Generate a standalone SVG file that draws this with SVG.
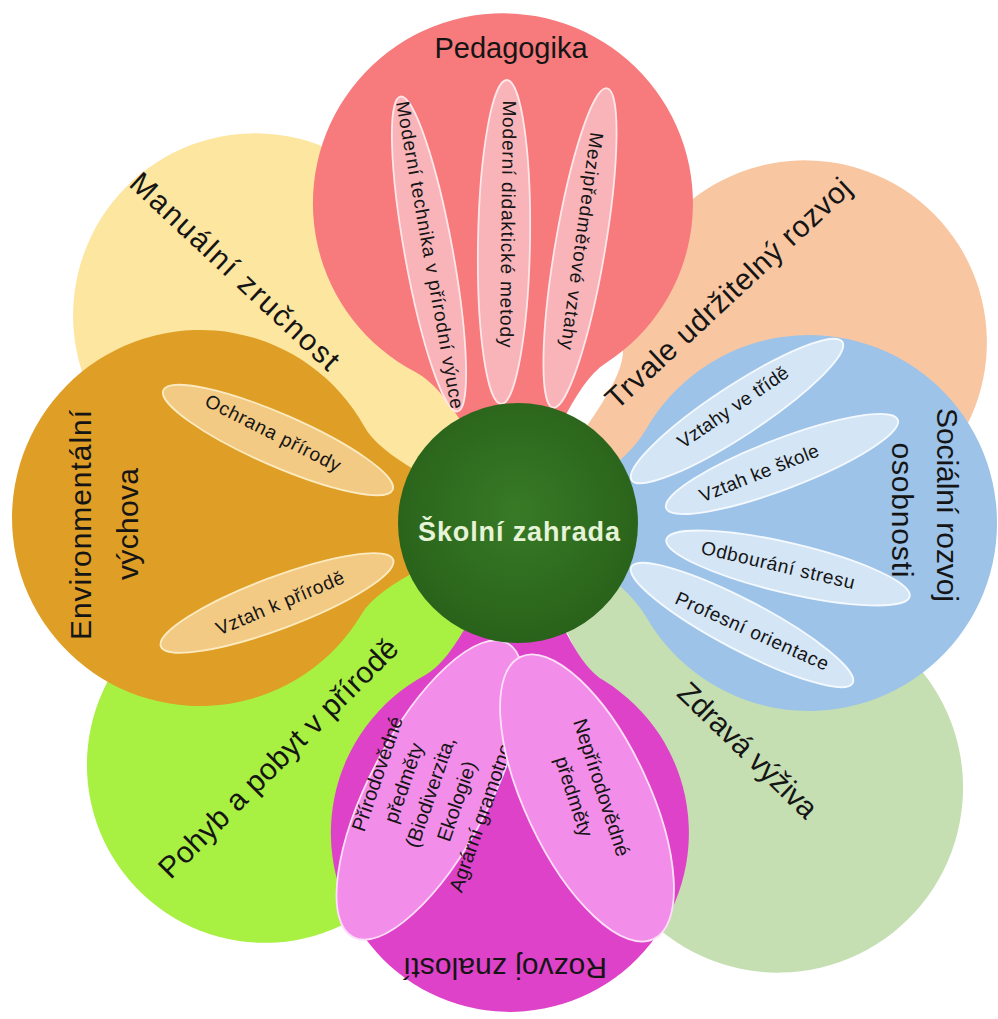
<svg xmlns="http://www.w3.org/2000/svg" width="998" height="1019" viewBox="0 0 998 1019">
<style>
text{font-family:"Liberation Sans",Arial,sans-serif;fill:#151515;dominant-baseline:central;text-anchor:middle}
.big{font-size:30px}
.sm{font-size:19px}
.mg{font-size:20px}
.center{font-size:27px;font-weight:bold;fill:#E6F3D6}
.subR{fill:#F8B4B9;stroke:#FFE6E8;stroke-width:1.8}
.subO{fill:#F3CA84;stroke:#FCEBC0;stroke-width:1.8}
.subB{fill:#D4E5F6;stroke:#F4F9FF;stroke-width:1.8}
.subM{fill:#F38DEA;stroke:#FDE0F8;stroke-width:1.8}
</style>
<defs>
<radialGradient id="gc" cx="50%" cy="45%" r="55%">
<stop offset="0" stop-color="#377A26"/>
<stop offset="1" stop-color="#29621A"/>
</radialGradient>
</defs>
<rect width="998" height="1019" fill="#FFFFFF"/>

<g id="petal-manualni">
<path fill="#FDE6A0" transform="translate(518,523) rotate(-51.7)" d="M-91,-177.4 A182,182 0 1 1 91,-177.4 C56,-157.4 30,-60 0,0 C-30,-60 -56,-157.4 -91,-177.4Z"/>
<text class="big" transform="translate(235,271) rotate(43)" textLength="274" lengthAdjust="spacing">Manuální zručnost</text>
</g>

<g id="petal-trvale">
<path fill="#F8C7A2" transform="translate(518,523) rotate(57.8)" d="M-91,-181.4 A182,182 0 1 1 91,-181.4 C56,-161.4 30,-60 0,0 C-30,-60 -56,-161.4 -91,-181.4Z"/>
<text class="big" transform="translate(728,293) rotate(-42.9)" textLength="323" lengthAdjust="spacing">Trvale udržitelný rozvoj</text>
</g>

<g id="petal-zdrava">
<path fill="#C5DFB2" transform="translate(518,523) rotate(135.5)" d="M-92.5,-210.8 A185,185 0 1 1 92.5,-210.8 C57.5,-190.8 30,-60 0,0 C-30,-60 -57.5,-190.8 -92.5,-210.8Z"/>
<text class="big" transform="translate(748,750) rotate(44)" textLength="181" lengthAdjust="spacing">Zdravá výživa</text>
</g>

<g id="petal-pohyb">
<path fill="#A8F042" transform="translate(518,523) rotate(-133.7)" d="M-89,-195.9 A178,178 0 1 1 89,-195.9 C54,-175.9 30,-60 0,0 C-30,-60 -54,-175.9 -89,-195.9Z"/>
<text class="big" transform="translate(278,758) rotate(-45)" textLength="325" lengthAdjust="spacing">Pohyb a pobyt v přírodě</text>
</g>

<g id="petal-pedagogika">
<path fill="#F77A7C" transform="translate(518,523) rotate(-2.7)" d="M-95,-155.5 A190,190 0 1 1 95,-155.5 C60,-135.5 30,-60 0,0 C-30,-60 -60,-135.5 -95,-155.5Z"/>
<text class="big" x="511" y="47" textLength="153" lengthAdjust="spacingAndGlyphs">Pedagogika</text>
<ellipse class="subR" cx="429" cy="254" rx="24" ry="160" transform="rotate(-10.3 429 254)"/>
<text class="sm" transform="translate(430,255) rotate(79.8)" textLength="312" lengthAdjust="spacing">Moderní technika v přírodní výuce</text>
<ellipse class="subR" cx="504" cy="242" rx="26" ry="162" transform="rotate(1 504 242)"/>
<text class="sm" transform="translate(508,224) rotate(90.7)" textLength="247" lengthAdjust="spacing">Moderní didaktické metody</text>
<ellipse class="subR" cx="580" cy="248" rx="25" ry="162" transform="rotate(9.6 580 248)"/>
<text class="sm" transform="translate(582,241) rotate(97.9)" textLength="219" lengthAdjust="spacing">Mezipředmětové vztahy</text>
</g>

<g id="petal-socialni">
<path fill="#9DC3E8" transform="translate(518,523) rotate(90)" d="M-94,-128.2 A188,188 0 1 1 94,-128.2 C59,-108.2 30,-60 0,0 C-30,-60 -59,-108.2 -94,-128.2Z"/>
<text class="big" transform="translate(947,505) rotate(90)" textLength="194" lengthAdjust="spacing">Sociální rozvoj</text>
<text class="big" transform="translate(902,510) rotate(90)" textLength="135" lengthAdjust="spacing">osobnosti</text>
<ellipse class="subB" cx="737" cy="411" rx="126" ry="25" transform="rotate(-33.3 737 411)"/>
<text class="sm" transform="translate(733,407) rotate(-34.3)" textLength="130" lengthAdjust="spacing">Vztahy ve třídě</text>
<ellipse class="subB" cx="782" cy="464" rx="124" ry="25" transform="rotate(-20.9 782 464)"/>
<text class="sm" transform="translate(759,473) rotate(-21.7)" textLength="127" lengthAdjust="spacing">Vztah ke škole</text>
<ellipse class="subB" cx="788" cy="568" rx="125" ry="25" transform="rotate(13.2 788 568)"/>
<text class="sm" transform="translate(778,565) rotate(13.2)" textLength="157" lengthAdjust="spacing">Odbourání stresu</text>
<ellipse class="subB" cx="742" cy="625" rx="125" ry="25" transform="rotate(27.7 742 625)"/>
<text class="sm" transform="translate(752,631) rotate(24.2)" textLength="166" lengthAdjust="spacing">Profesní orientace</text>
</g>

<g id="petal-rozvoj-znalosti">
<path fill="#DE42C8" transform="translate(518,523) rotate(181.5)" d="M-89.5,-155 A179,179 0 1 1 89.5,-155 C54.5,-135 30,-60 0,0 C-30,-60 -54.5,-135 -89.5,-155Z"/>
<text class="big" transform="translate(505,968) rotate(180)" textLength="204" lengthAdjust="spacing">Rozvoj znalostí</text>
<ellipse class="subM" cx="430" cy="790" rx="60" ry="166" transform="rotate(27.6 430 790)"/>
<g transform="translate(430,792) rotate(-71)">
<text class="mg" x="0" y="-56">Přírodovědné</text>
<text class="mg" x="0" y="-28">předměty</text>
<text class="mg" x="0" y="0">(Biodiverzita,</text>
<text class="mg" x="0" y="28">Ekologie)</text>
<text class="mg" x="0" y="56">Agrární gramotnost</text>
</g>
<ellipse class="subM" cx="587" cy="798" rx="62" ry="156" transform="rotate(-25.2 587 798)"/>
<g transform="translate(588,792) rotate(72)">
<text class="mg" x="0" y="-14.5">Nepřírodovědné</text>
<text class="mg" x="0" y="14.5">předměty</text>
</g>
</g>

<g id="petal-environmentalni">
<path fill="#DF9E25" transform="translate(518,523) rotate(-89.1)" d="M-94,-155.2 A188,188 0 1 1 94,-155.2 C59,-135.2 30,-60 0,0 C-30,-60 -59,-135.2 -94,-155.2Z"/>
<text class="big" transform="translate(80,525) rotate(-90)" textLength="230" lengthAdjust="spacing">Environmentální</text>
<text class="big" transform="translate(127,524) rotate(-90)" textLength="112" lengthAdjust="spacing">výchova</text>
<ellipse class="subO" cx="278" cy="440" rx="125" ry="26" transform="rotate(23.5 278 440)"/>
<text class="sm" transform="translate(273,433) rotate(26.7)" textLength="149" lengthAdjust="spacing">Ochrana přírody</text>
<ellipse class="subO" cx="277" cy="603" rx="124" ry="26" transform="rotate(-20.5 277 603)"/>
<text class="sm" transform="translate(280,603) rotate(-22.8)" textLength="137" lengthAdjust="spacing">Vztah k přírodě</text>
</g>

<g id="center-skolni-zahrada">
<circle cx="518" cy="523" r="120" fill="url(#gc)"/>
<text class="center" x="519" y="532" textLength="202" lengthAdjust="spacing">Školní zahrada</text>
</g>
</svg>
